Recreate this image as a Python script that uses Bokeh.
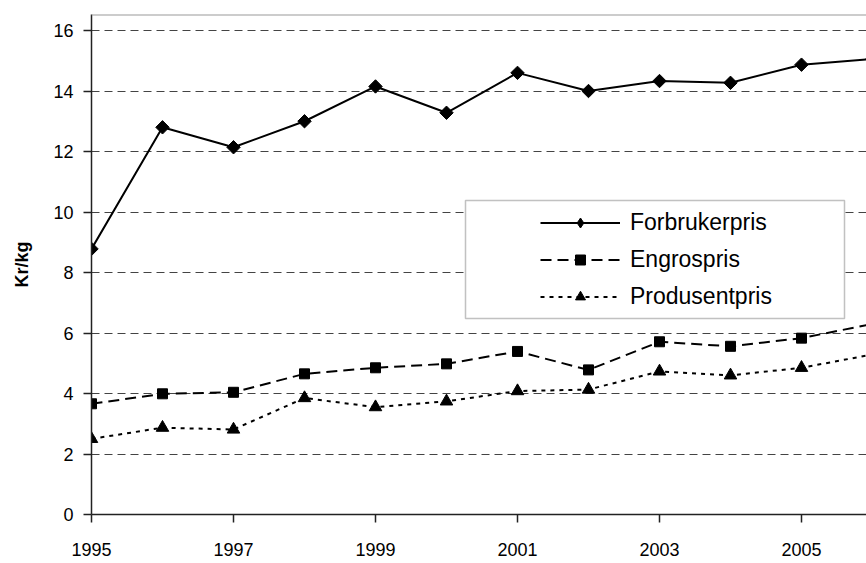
import numpy as np
from bokeh.plotting import figure
from bokeh.models import (FixedTicker, Range1d, Legend, LegendItem, Span,
                          BoxAnnotation)
from bokeh.embed import file_html
from bokeh.resources import INLINE

years = [1995, 1996, 1997, 1998, 1999, 2000, 2001, 2002, 2003, 2004, 2005, 2006]
forbrukerpris = [8.78, 12.80, 12.14, 13.0, 14.15, 13.28, 14.6, 14.0, 14.33, 14.27, 14.87, 15.06]
engrospris = [3.66, 3.99, 4.04, 4.65, 4.85, 4.98, 5.39, 4.78, 5.71, 5.56, 5.83, 6.3]
produsentpris = [2.5, 2.87, 2.81, 3.85, 3.55, 3.74, 4.08, 4.13, 4.73, 4.6, 4.85, 5.29]
x_ticks = [1995, 1997, 1999, 2001, 2003, 2005]
y_ticks = [0, 2, 4, 6, 8, 10, 12, 14, 16]
y_label = "Kr/kg"
names = ["Forbrukerpris", "Engrospris", "Produsentpris"]

FONT = "Liberation Sans"
x_end = 1995 + 775 / 71.0
y_end = 500 / 30.25

p = figure(width=866, height=563, output_backend="svg", toolbar_location=None,
           x_range=Range1d(1995, x_end), y_range=Range1d(0, y_end),
           min_border_left=91, min_border_right=0, min_border_top=14,
           min_border_bottom=49)
p.outline_line_color = None
p.background_fill_color = "white"
p.border_fill_color = "white"

# axes
for ax in (p.xaxis[0], p.yaxis[0]):
    ax.axis_line_color = "#222222"
    ax.axis_line_width = 1.5
    ax.major_tick_line_color = "#222222"
    ax.major_tick_line_width = 1.5
    ax.major_tick_out = 8
    ax.major_tick_in = 0
    ax.minor_tick_line_color = None
    ax.major_label_text_font = FONT
    ax.major_label_text_font_size = "18px"
    ax.major_label_text_color = "black"
p.xaxis.ticker = FixedTicker(ticks=x_ticks)
p.yaxis.ticker = FixedTicker(ticks=y_ticks)
p.xaxis.major_label_standoff = 20
p.yaxis.major_label_standoff = 10
p.yaxis.axis_label = y_label
p.yaxis.axis_label_text_font = FONT
p.yaxis.axis_label_text_font_size = "18px"
p.yaxis.axis_label_text_font_style = "bold"
p.yaxis.axis_label_text_color = "black"
p.yaxis.axis_label_standoff = 18

p.xgrid.grid_line_color = None
p.ygrid.ticker = FixedTicker(ticks=y_ticks[1:])
p.ygrid.grid_line_color = "#444444"
p.ygrid.grid_line_width = 1
p.ygrid.grid_line_dash = "8 5"

top_border = Span(location=y_end, dimension="width", line_color="#999999", line_width=2)
p.add_layout(top_border)

# series
l1 = p.line(years, forbrukerpris, line_color="black", line_width=2)
m1 = p.scatter(years, forbrukerpris, marker="square", angle=np.pi / 4, size=9.5,
               fill_color="black", line_color="black")
m1_leg = p.scatter(years, forbrukerpris, marker="diamond", size=12,
                   fill_color="black", line_color="black", visible=False)
l2 = p.line(years, engrospris, line_color="black", line_width=2, line_dash="11 6")
m2 = p.scatter(years, engrospris, marker="square", size=10,
               fill_color="black", line_color="black")
l3 = p.line(years, produsentpris, line_color="black", line_width=2, line_dash="4 5")
m3 = p.scatter(years, produsentpris, marker="triangle", size=12.5,
               fill_color="black", line_color="black")

box = BoxAnnotation(left=374, right=753, top=314, bottom=196,
                    left_units="screen", right_units="screen",
                    top_units="screen", bottom_units="screen",
                    fill_color="white", fill_alpha=1.0,
                    line_color="#333333", line_width=1.5)
p.add_layout(box)

legend = Legend(items=[LegendItem(label=names[0], renderers=[l1, m1_leg]),
                       LegendItem(label=names[1], renderers=[l2, m2]),
                       LegendItem(label=names[2], renderers=[l3, m3])],
                location=(449, 204))
legend.padding = 0
legend.spacing = 10
legend.margin = 0
legend.glyph_width = 80
legend.glyph_height = 25
legend.label_height = 25
legend.label_standoff = 10
legend.label_text_font = FONT
legend.label_text_font_size = "23px"
legend.label_text_color = "black"
legend.border_line_color = None
legend.background_fill_alpha = 0
p.add_layout(legend, "center")

open("out.html", "w").write(file_html(p, INLINE))
